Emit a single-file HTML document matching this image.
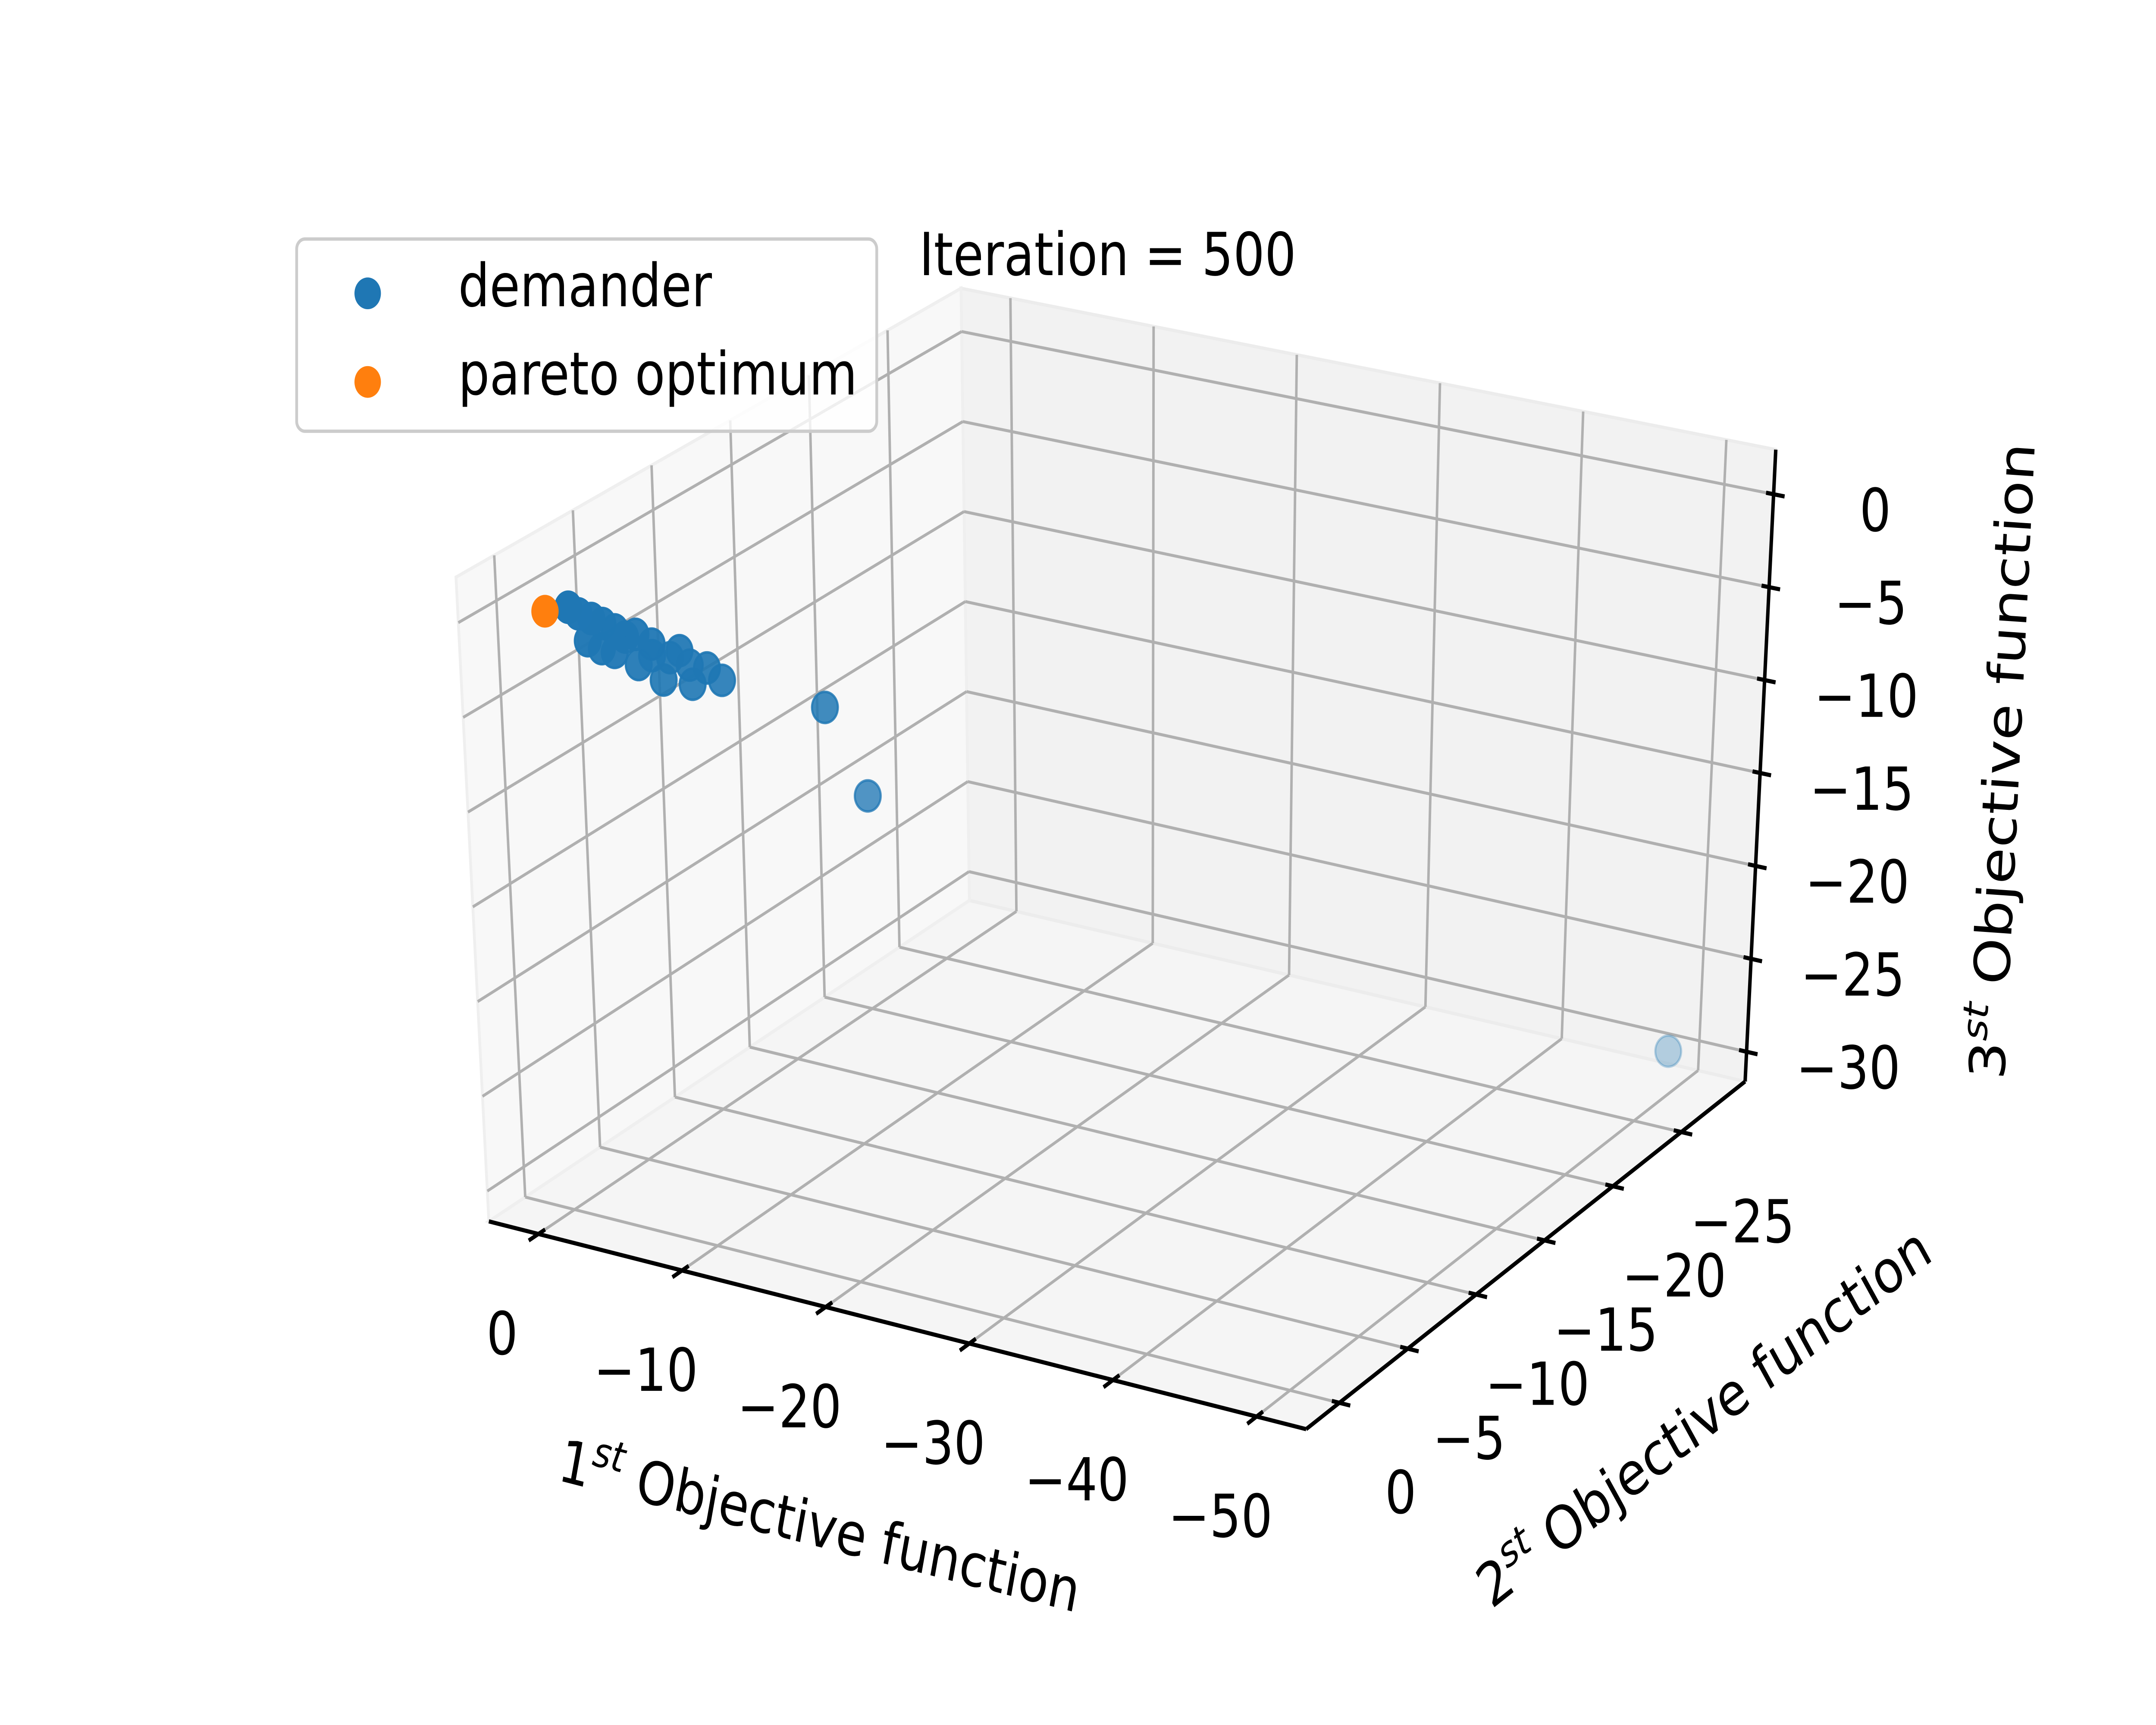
<!DOCTYPE html>
<html><head><meta charset="utf-8"><style>
html,body{margin:0;padding:0;background:#fff;width:100%;height:100%;overflow:hidden}
svg{display:block;width:100vw;height:100vh}
text{font-family:"DejaVu Sans","Liberation Sans",sans-serif;fill:#000}
</style></head><body>
<svg id="chart" xmlns="http://www.w3.org/2000/svg" viewBox="0 0 1548 1032" preserveAspectRatio="none">
<rect width="1548" height="1032" fill="#fff"/>
<g id="panes"></g>
<g id="grid"></g>
<g id="axes"></g>
<g id="points"></g>
<text x="660" y="164.6" font-size="35.5">Iteration = 500</text>
<text font-size="35.5" text-anchor="middle" transform="translate(586,925) rotate(12)">1<tspan font-size="25" font-style="italic" dy="-14">st</tspan><tspan dy="14"> Objective function</tspan></text>
<text font-size="35.5" text-anchor="middle" transform="translate(1230,858) rotate(-33.4)">2<tspan font-size="25" font-style="italic" dy="-14">st</tspan><tspan dy="14"> Objective function</tspan></text>
<text font-size="35.5" text-anchor="middle" transform="translate(1450,456) rotate(-86.7)">3<tspan font-size="25" font-style="italic" dy="-14">st</tspan><tspan dy="14"> Objective function</tspan></text>
<g>
<rect x="213" y="143" width="416.5" height="115" rx="6" fill="#fff" fill-opacity="0.8" stroke="#cccccc" stroke-width="2"/>
<circle cx="264" cy="175.5" r="9.5" fill="#1f77b4"/>
<text x="329" y="183.2" font-size="35.5">demander</text>
<circle cx="264" cy="228.5" r="9.5" fill="#ff7f0e"/>
<text x="329" y="236" font-size="35.5">pareto optimum</text>
</g>
</svg>
<script>
const xTicks=[0,-10,-20,-30,-40,-50];
const yTicks=[0,-5,-10,-15,-20,-25];
const zTicks=[0,-5,-10,-15,-20,-25,-30];
const demX=[-0.84,-1.28,-1.84,-1.65,-2.33,-2.87,-2.26,-2.83,-3.32,-3.78,-3.88,-4.49,-4.49,-4.97,-5.29,-5.72,-6.16,-6.26,-6.93,-7.59,-12.2,-15,-51.6];
const demY=[-0.50,-0.72,-0.99,-0.89,-1.22,-1.48,-1.19,-1.46,-1.70,-1.93,-1.97,-2.27,-2.27,-2.50,-2.66,-2.87,-3.08,-3.13,-3.45,-3.77,-6,-6,-25.7];
const demZ=[0.15,-0.23,-0.51,-1.67,-0.80,-1.17,-2.13,-2.36,-1.58,-1.47,-3.07,-2.03,-2.64,-3.96,-2.80,-2.46,-3.25,-4.27,-3.45,-4.15,-5.9,-10.1,-28.0];
const parX=[0.2];
const parY=[0];
const parZ=[0];
const xLim=[3.45,-53.45], yLim=[2.43,-29.67], zLim=[-31.6,2.4];
const BOT={a:[351,730.7],b:[937.8,855],c:[1253,647],d:[696,538.7]};
const TOP={a:[327.4,345.3],b:[942,457],c:[1275,269],d:[690,172.5]};
function lerp(p,q,t){return [p[0]+(q[0]-p[0])*t,p[1]+(q[1]-p[1])*t];}
function bil(C,u,v){return lerp(lerp(C.a,C.b,u),lerp(C.d,C.c,u),v);}
function P(u,v,w){return lerp(bil(BOT,u,v),bil(TOP,u,v),w);}
function U(x){return (x-xLim[0])/(xLim[1]-xLim[0]);}
function V(y){return (y-yLim[0])/(yLim[1]-yLim[0]);}
function W(z){return (z-zLim[0])/(zLim[1]-zLim[0]);}
const NS='http://www.w3.org/2000/svg';
function mk(tag,attrs,parent){const e=document.createElementNS(NS,tag);for(const k in attrs)e.setAttribute(k,attrs[k]);parent.appendChild(e);return e;}
function pts(a){return a.map(p=>p[0].toFixed(2)+','+p[1].toFixed(2)).join(' ');}
const panes=document.getElementById('panes');
let e;
e=mk('polygon',{points:pts([P(0,0,0),P(1,0,0),P(1,1,0),P(0,1,0)]),fill:'#f5f5f5',stroke:'#ececec','stroke-width':2},panes);


e=mk('polygon',{points:pts([P(0,1,0),P(1,1,0),P(1,1,1),P(0,1,1)]),fill:'#f2f2f2',stroke:'#ececec','stroke-width':2},panes);


e=mk('polygon',{points:pts([P(0,0,0),P(0,1,0),P(0,1,1),P(0,0,1)]),fill:'#f8f8f8',stroke:'#efefef','stroke-width':2},panes);


const grid=document.getElementById('grid');
function gl(p,q,name){const l=mk('line',{x1:p[0],y1:p[1],x2:q[0],y2:q[1],stroke:'#b0b0b0','stroke-width':1.8},grid);

}
xTicks.forEach(x=>{const u=U(x);gl(P(u,0,0),P(u,1,0),'x-gridline');gl(P(u,1,0),P(u,1,1),'x-gridline');});
yTicks.forEach(y=>{const v=V(y);gl(P(0,v,0),P(1,v,0),'y-gridline');gl(P(0,v,0),P(0,v,1),'y-gridline');});
zTicks.forEach(z=>{const w=W(z);gl(P(0,0,w),P(0,1,w),'z-gridline');gl(P(0,1,w),P(1,1,w),'z-gridline');});
const axes=document.getElementById('axes');
function al(p,q,name){const l=mk('line',{x1:p[0],y1:p[1],x2:q[0],y2:q[1],stroke:'#000','stroke-width':2.5},axes);

}
al(P(0,0,0),P(1,0,0),'x-axis-line');al(P(1,0,0),P(1,1,0),'y-axis-line');al(P(1,1,0),P(1,1,1),'z-axis-line');
function unit(p,q){const dx=q[0]-p[0],dy=q[1]-p[1],L=Math.hypot(dx,dy);return [dx/L,dy/L];}
function tick(p,d,name){const s=[p[0]-d[0]*5.5,p[1]-d[1]*5.5],t=[p[0]+d[0]*8,p[1]+d[1]*8];
const l=mk('line',{x1:s[0],y1:s[1],x2:t[0],y2:t[1],stroke:'#000','stroke-width':2.5},axes);

}
function lab(x,y,s,name){const t=mk('text',{x:x,y:y,'font-size':35.5,'text-anchor':'middle'},axes);t.textContent=s;

}
function fmt(n){return n<0?'\u2212'+Math.abs(n):String(n);}
xTicks.forEach(x=>{const u=U(x),p=P(u,0,0),d=unit(P(u,1,0),p);tick(p,d,'x-tick');lab(p[0]-26,p[1]+72,fmt(x),'x-tick-label');});
yTicks.forEach(y=>{const v=V(y),p=P(1,v,0),d=unit(P(0,v,0),p);tick(p,d,'y-tick');lab(p[0]+44,p[1]+66,fmt(y),'y-tick-label');});
zTicks.forEach(z=>{const w=W(z),p=P(1,1,w),d=unit(P(0,1,w),p);tick(p,d,'z-tick');lab(p[0]+73,p[1]+22,fmt(z),'z-tick-label');});
const g=document.getElementById('points');
function depth(u,v,w){return -w+0.3*u+0.3*v;}
const ds=demX.map((x,i)=>depth(U(x),V(demY[i]),W(demZ[i])));
const dmin=Math.min(...ds),dmax=Math.max(...ds);
const order=demX.map((_,i)=>i).sort((i,j)=>ds[j]-ds[i]);
order.forEach(i=>{const p=P(U(demX[i]),V(demY[i]),W(demZ[i]));const al2=1-0.7*(ds[i]-dmin)/(dmax-dmin||1);
const c=mk('circle',{cx:p[0].toFixed(2),cy:p[1].toFixed(2),r:9.3,fill:'#1f77b4','fill-opacity':al2.toFixed(3),stroke:'#1f77b4','stroke-opacity':al2.toFixed(3),'stroke-width':1.5},g);

});
parX.forEach((x,i)=>{const p=P(U(x),V(parY[i]),W(parZ[i]));
const c=mk('circle',{cx:p[0].toFixed(2),cy:p[1].toFixed(2),r:9.8,fill:'#ff7f0e'},g);

});
</script>
</body></html>
